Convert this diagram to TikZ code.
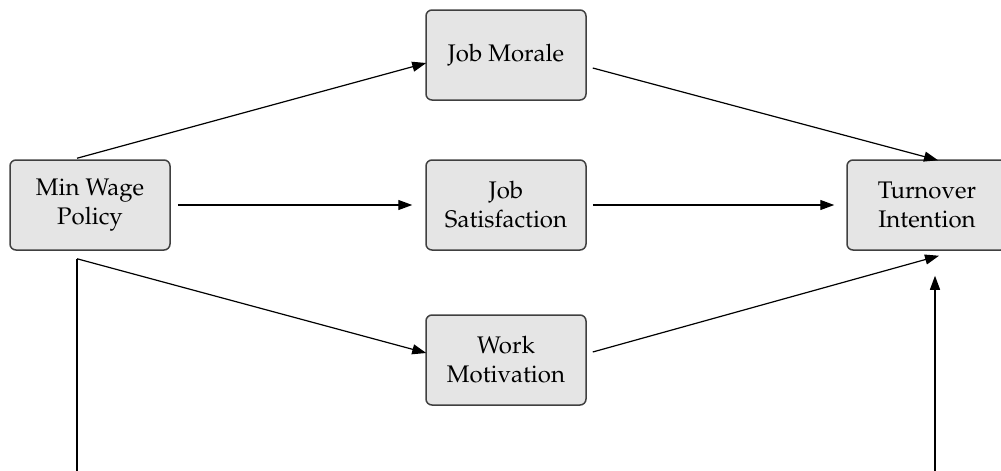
\documentclass[tikz,border=0pt]{standalone}
\usepackage[T1]{fontenc}
\usepackage{mathpazo}
\usetikzlibrary{arrows.meta,calc}
\begin{document}
\begin{tikzpicture}[x=0.5pt,y=-0.5pt,
  box/.style={draw=black!75,line width=0.75pt,fill=black!10,rounded corners=3pt,
    minimum width=80pt,minimum height=45pt,align=center,inner sep=0pt,
    font=\fontsize{12}{14.5}\selectfont},
  arr/.style={draw=black,line width=0.6pt,-{Triangle[length=7pt,width=5pt]}}]
\useasboundingbox (0,0) rectangle (1001,471);
\clip (0,0) rectangle (1001,471);
\node[box] (MW) at (90,205) {Min Wage\\Policy};
\node[box] (JM) at (506,55) {Job Morale};
\node[box] (JS) at (506,205) {Job\\Satisfaction};
\node[box] (WM) at (506,360) {Work\\Motivation};
\node[box] (TI) at (927,205) {Turnover\\Intention};
\coordinate (mwtop) at ($(MW.north)+(-13,-1)$);
\coordinate (mwbot) at ($(MW.south)+(-13,8)$);
\coordinate (low) at (0,520);
\draw[arr] (mwtop) -- ($(JM.west)+(1,8)$);
\draw[arr] ($(JM.east)+(6,13)$) -- ($(TI.north)+(11,1)$);
\draw[arr] ($(MW.east)+(7,0)$) -- ($(JS.west)+(-13,0)$);
\draw[arr] ($(JS.east)+(6,0)$) -- ($(TI.west)+(-12,0)$);
\draw[arr] (mwbot) -- ($(WM.west)+(1,-7)$);
\draw[arr] ($(WM.east)+(6,-8)$) -- ($(TI.south)+(12,5)$);
\draw[arr] (mwbot) -- (mwbot |- low) -| ($(TI.south)+(8,25)$);
\end{tikzpicture}
\end{document}
